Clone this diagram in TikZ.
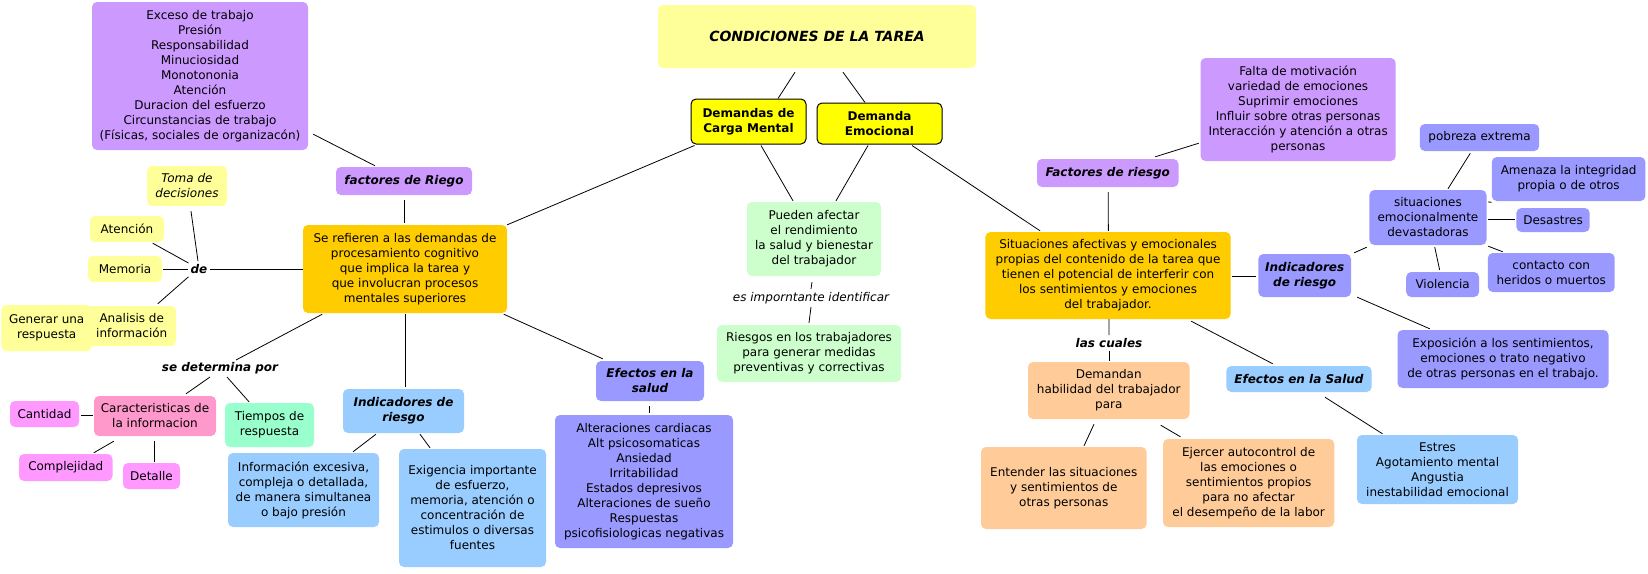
\documentclass[tikz,border=0pt]{standalone}
\usepackage{fontspec}
\usetikzlibrary{calc}
\newfontfamily\nf{DejaVu Sans}
\definecolor{cPurple}{HTML}{CC99FF}
\definecolor{cLY}{HTML}{FFFF99}
\definecolor{cY}{HTML}{FFFF00}
\definecolor{cOr}{HTML}{FFCC00}
\definecolor{cLG}{HTML}{CCFFCC}
\definecolor{cPink}{HTML}{FF99CC}
\definecolor{cMag}{HTML}{FF99FF}
\definecolor{cMint}{HTML}{99FFCC}
\definecolor{cLB}{HTML}{99CCFF}
\definecolor{cBP}{HTML}{9999FF}
\definecolor{cPeach}{HTML}{FFCC99}
\newcommand\mybox[7]{%
  \pgfmathsetmacro\bw{#5-#3}\pgfmathsetmacro\bh{#6-#4}%
  \pgfmathsetmacro\bcx{(#3+#5)/2}\pgfmathsetmacro\bcy{(#4+#6)/2}%
  \node[#2, minimum width=\bw pt, minimum height=\bh pt] (#1) at (\bcx,\bcy) {#7};}
\tikzset{
  bx/.style={rounded corners=5pt, inner sep=0pt, align=center, font=\nf\fontsize{12}{15}\selectfont},
  bi/.style={font=\nf\fontsize{12}{15}\selectfont\bfseries\itshape},
  it/.style={font=\nf\fontsize{12}{15}\selectfont\itshape},
  bo/.style={font=\nf\fontsize{12}{15}\selectfont\bfseries},
  lbl/.style={inner sep=0pt, align=center},
  con/.style={line width=0.8pt, black},
}
\begin{document}
\begin{tikzpicture}[x=1pt,y=-1pt]
\useasboundingbox[fill=white] (0,0) rectangle (1648,573);
% ---- centre
\mybox{cond}{bx,fill=cLY,font=\nf\fontsize{14}{17}\selectfont\bfseries\itshape}{658}{5}{976}{68}{CONDICIONES DE LA TAREA}
\mybox{dcm}{bx,fill=cY,draw=black,line width=1pt,bo}{691}{99}{806}{144}{Demandas de\\Carga Mental}
\mybox{dem}{bx,fill=cY,draw=black,line width=1pt,bo}{817}{103}{942}{144}{Demanda\\Emocional}
\mybox{pue}{bx,fill=cLG}{747}{202}{881}{276}{Pueden afectar\\el rendimiento\\la salud y bienestar\\del trabajador}
\node[lbl,it] (esimp) at (811,298) {es imporntante identificar};
\mybox{rie}{bx,fill=cLG}{717}{325}{901}{382}{Riesgos en los trabajadores\\para generar medidas\\preventivas y correctivas}
% ---- left
\mybox{topP}{bx,fill=cPurple}{92}{2}{308}{150}{Exceso de trabajo\\Presión\\Responsabilidad\\Minuciosidad\\Monotononia\\Atención\\Duracion del esfuerzo\\Circunstancias de trabajo\\(Físicas, sociales de organizacón)}
\mybox{facL}{bx,fill=cPurple,bi}{336}{167}{472}{195}{factores de Riego}
\mybox{orL}{bx,fill=cOr}{303}{225}{507}{313}{Se refieren a las demandas de\\procesamiento cognitivo\\que implica la tarea y\\que involucran procesos\\mentales superiores}
\mybox{toma}{bx,fill=cLY,it}{147}{166}{227}{206}{Toma de\\decisiones}
\mybox{aten}{bx,fill=cLY}{90}{216}{164}{242}{Atención}
\mybox{mem}{bx,fill=cLY}{88}{256}{162}{282}{Memoria}
\mybox{gen}{bx,fill=cLY}{1.4}{305}{92}{351}{Generar una\\respuesta}
\mybox{anal}{bx,fill=cLY}{87.5}{306}{176}{346}{Analisis de\\información}
\node[lbl,bi] (de) at (199,269) {de};
\node[lbl,bi] (sedet) at (220,368) {se determina por};
\mybox{car}{bx,fill=cPink}{94}{396}{216}{436}{Caracteristicas de\\la informacion}
\mybox{cant}{bx,fill=cMag}{10}{401}{79}{427}{Cantidad}
\mybox{comp}{bx,fill=cMag}{19}{454}{112.5}{481}{Complejidad}
\mybox{det}{bx,fill=cMag}{123}{463}{180}{489}{Detalle}
\mybox{tiem}{bx,fill=cMint}{225}{403}{314}{447}{Tiempos de\\respuesta}
\mybox{indL}{bx,fill=cLB,bi}{343}{389}{464}{433}{Indicadores de\\riesgo}
\mybox{infex}{bx,fill=cLB}{228}{453}{379}{527}{Información excesiva,\\compleja o detallada,\\de manera simultanea\\o bajo presión}
\mybox{exig}{bx,fill=cLB}{399}{449}{546}{567}{Exigencia importante\\de esfuerzo,\\memoria, atención o\\concentración de\\estimulos o diversas\\fuentes}
\mybox{efL}{bx,fill=cBP,bi}{596}{361}{704}{401}{Efectos en la\\salud}
\mybox{alt}{bx,fill=cBP}{555}{415}{733}{548}{Alteraciones cardiacas\\Alt psicosomaticas\\Ansiedad\\Irritabilidad\\Estados depresivos\\Alteraciones de sueño\\Respuestas\\psicofisiologicas negativas}
% ---- right
\mybox{orR}{bx,fill=cOr}{985.4}{232}{1230.7}{319}{Situaciones afectivas y emocionales\\propias del contenido de la tarea que\\tienen el potencial de interferir con\\los sentimientos y emociones\\del trabajador.}
\mybox{facR}{bx,fill=cPurple,bi}{1037}{159}{1178.5}{187}{Factores de riesgo}
\mybox{falta}{bx,fill=cPurple}{1200.5}{58}{1395.7}{161}{Falta de motivación\\variedad de emociones\\Suprimir emociones\\Influir sobre otras personas\\Interacción y atención a otras\\personas}
\mybox{indR}{bx,fill=cBP,bi}{1258.4}{254}{1351}{297}{Indicadores\\de riesgo}
\mybox{sit}{bx,fill=cBP}{1369.4}{190}{1486.5}{245}{situaciones\\emocionalmente\\devastadoras}
\mybox{pob}{bx,fill=cBP}{1419.8}{124}{1539.2}{151}{pobreza extrema}
\mybox{ame}{bx,fill=cBP}{1491.8}{157}{1645.4}{201}{Amenaza la integridad\\propia o de otros}
\mybox{desa}{bx,fill=cBP}{1516.4}{208}{1589.7}{232}{Desastres}
\mybox{vio}{bx,fill=cBP}{1406.2}{272}{1479}{297}{Violencia}
\mybox{cont}{bx,fill=cBP}{1487.8}{253}{1614.7}{292}{contacto con\\heridos o muertos}
\mybox{expo}{bx,fill=cBP}{1397.5}{330}{1608.5}{388}{Exposición a los sentimientos,\\emociones o trato negativo\\de otras personas en el trabajo.}
\node[lbl,bi] (lascu) at (1109,343) {las cuales};
\mybox{deman}{bx,fill=cPeach}{1028}{362}{1189.5}{419}{Demandan\\habilidad del trabajador\\para}
\mybox{efR}{bx,fill=cLB,bi}{1226.3}{366}{1371.6}{392}{Efectos en la Salud}
\mybox{estres}{bx,fill=cLB}{1357}{435}{1518}{504}{Estres\\Agotamiento mental\\Angustia\\inestabilidad emocional}
\mybox{ent}{bx,fill=cPeach}{981}{447}{1146.5}{529}{Entender las situaciones\\y sentimientos de\\otras personas}
\mybox{ejer}{bx,fill=cPeach}{1163}{439}{1334.3}{527}{Ejercer autocontrol de\\las emociones o\\sentimientos propios\\para no afectar\\el desempeño de la labor}
% ---- connectors
\begin{scope}[con]
\draw ($(cond.south)+(-22,4)$) -- ($(dcm.north)+(29.5,0)$);
\draw ($(cond.south)+(26,4)$) -- ($(dem.north)+(-14.5,0)$);
\draw ($(dcm.south west)+(4,1)$) -- (orL.north east);
\draw ($(dcm.south)+(12.5,1)$) -- ($(pue.north)+(-21,-1)$);
\draw ($(dem.south)+(-11.5,1)$) -- ($(pue.north)+(22,-1)$);
\draw ($(dem.south)+(32.5,1)$) -- ($(orR.north)+(-68,-1)$);
\draw ($(pue.south)+(-2,6)$) -- ($(esimp.north)+(0,-3)$);
\draw ($(esimp.south)+(0,3)$) -- ($(rie.north)+(0,-2)$);
\draw ($(topP.south east)+(5,-16)$) -- ($(facL.north)+(-29,-1)$);
\draw ($(facL.south)+(0,5)$) -- ($(orL.north)+(-1,-2)$);
\draw ($(de.east)+(2,0)$) -- (orL.west);
\draw ($(mem.east)+(1,0)$) -- ($(de.west)+(-2,0)$);
\draw ($(aten.south east)+(-11.5,1)$) -- ($(de.west)+(-2,-6)$);
\draw ($(toma.south)+(4,5)$) -- ($(de.north)+(-1,-3)$);
\draw ($(anal.north)+(26,-2)$) -- ($(de.south west)+(-2,3)$);
\draw ($(orL.south west)+(19.5,1)$) -- ($(sedet.north)+(16,-2)$);
\draw ($(sedet.south)+(-10,3)$) -- ($(car.north)+(31,-2)$);
\draw ($(sedet.south)+(7,3)$) -- ($(tiem.north)+(-20.5,-1)$);
\draw ($(cant.east)+(2,1)$) -- ($(car.west)+(-1,-1)$);
\draw ($(car.south west)+(20,5)$) -- ($(comp.north)+(28,-1)$);
\draw ($(car.south)+(-1,5)$) -- ($(det.north)+(2.5,-1)$);
\draw ($(orL.south)+(0,1)$) -- ($(indL.north)+(1.5,-2)$);
\draw ($(indL.south)+(-27.5,1)$) -- ($(infex.north)+(49.5,-1)$);
\draw ($(indL.south)+(16.5,1)$) -- ($(exig.north)+(-42.5,-1)$);
\draw ($(orL.south east)+(-3.5,1)$) -- ($(efL.north west)+(7,-2)$);
\draw ($(efL.south)+(-1,5)$) -- ($(alt.north)+(5,-2)$);
\draw ($(facR.south)+(0.5,5)$) -- ($(orR.north)+(0.3,-1)$);
\draw ($(facR.north east)+(-23.5,-2)$) -- ($(falta.south west)+(-1.5,-18)$);
\draw ($(orR.east)+(1,0.5)$) -- ($(indR.west)+(-2,0.5)$);
\draw ($(indR.north east)+(3,-1)$) -- ($(sit.south west)+(-2.4,2)$);
\draw ($(sit.north)+(20,-1)$) -- ($(pob.south)+(-9.2,2)$);
\draw ($(sit.east)+(1.3,-15.5)$) -- ($(ame.south west)+(0,1)$);
\draw ($(sit.east)+(1.5,1.5)$) -- ($(desa.west)+(-1.4,-1)$);
\draw ($(sit.south)+(6.8,2)$) -- ($(vio.north)+(-3,-2)$);
\draw ($(sit.south east)+(1.5,1)$) -- ($(cont.north west)+(15.2,-1)$);
\draw ($(indR.south east)+(6,0)$) -- ($(expo.north west)+(32.5,-1)$);
\draw ($(orR.south)+(1,0)$) -- ($(lascu.north)+(0,-3)$);
\draw ($(lascu.south)+(0,3)$) -- ($(deman.north)+(0.25,-1)$);
\draw ($(orR.south east)+(-39.7,2)$) -- ($(efR.north west)+(46.7,-2)$);
\draw ($(efR.south)+(26,5)$) -- ($(estres.north)+(-55,-1)$);
\draw ($(deman.south)+(-14.75,5)$) -- ($(ent.north)+(20.25,-1)$);
\draw ($(deman.south east)+(-29,6)$) -- ($(ejer.north west)+(17.7,-2)$);
\end{scope}
\end{tikzpicture}
\end{document}
